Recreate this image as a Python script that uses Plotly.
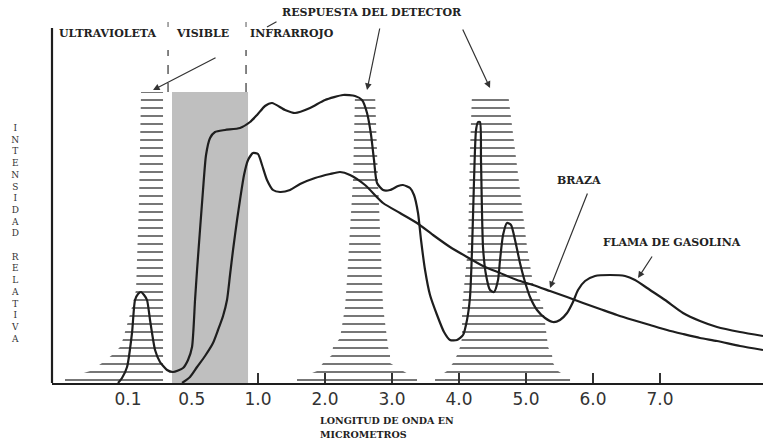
import plotly.graph_objects as go

# ---------------- data (x in axis-display units, y = relative intensity) ----------------
TICK_POS = [-0.94, 0.01, 1, 2, 3, 4, 5, 6, 7]
TICK_LABELS = ["0.1", "0.5", "1.0", "2.0", "3.0", "4.0", "5.0", "6.0", "7.0"]
MINOR_TICKS = [1, 2, 3, 4, 5, 6, 7]

flama_x = [-1.090, -1.030, -0.955, -0.881, -0.836, -0.791, -0.746, -0.701, -0.657, -0.612,
           -0.582, -0.537, -0.463, -0.358, -0.269, -0.119, -0.045, 0.015, 0.060, 0.090,
           0.134, 0.179, 0.224, 0.284, 0.358, 0.507, 0.731, 0.881, 0.985, 1.104,
           1.209, 1.403, 1.552, 1.776, 2.000, 2.269, 2.448, 2.552, 2.627, 2.687,
           2.731, 2.776, 2.866, 2.970, 3.090, 3.164, 3.269, 3.328, 3.388, 3.433,
           3.493, 3.567, 3.672, 3.776, 3.866, 3.970, 4.060, 4.119, 4.164, 4.194,
           4.224, 4.254, 4.284, 4.313, 4.328, 4.358, 4.403, 4.463, 4.522, 4.582,
           4.612, 4.657, 4.716, 4.776, 4.836, 4.910, 4.985, 5.060, 5.164, 5.284,
           5.403, 5.507, 5.612, 5.701, 5.776, 5.881, 6.030, 6.254, 6.478, 6.627,
           6.851, 7.075, 7.343, 7.597, 7.851, 8.194, 8.537]
flama_y = [0, 5, 16, 50, 83, 89, 91, 88, 83, 63,
           50, 33, 21, 13, 11, 15, 23, 36, 83, 113,
           153, 193, 228, 245, 251, 253, 255, 261, 268, 277,
           280, 273, 270, 275, 283, 288, 287, 283, 270, 248,
           223, 200, 193, 193, 197, 198, 195, 188, 170, 143,
           113, 88, 68, 51, 43, 43, 48, 63, 86, 133,
           203, 253, 261, 261, 223, 136, 108, 93, 91, 103,
           123, 148, 160, 158, 143, 120, 101, 86, 73, 65,
           61, 63, 70, 81, 93, 102, 107, 108, 107, 103,
           93, 83, 70, 62, 56, 51, 47]

braza_x = [-0.134, -0.015, 0.090, 0.209, 0.328, 0.403, 0.478, 0.537, 0.582, 0.627,
           0.687, 0.731, 0.791, 0.851, 0.925, 1.000, 1.060, 1.134, 1.224, 1.328,
           1.478, 1.627, 1.851, 2.075, 2.224, 2.373, 2.597, 2.866, 3.119, 3.373,
           3.612, 3.866, 4.119, 4.358, 4.612, 4.866, 5.104, 5.358, 5.612, 5.851,
           6.104, 6.358, 6.597, 6.851, 7.104, 7.343, 7.597, 7.851, 8.194, 8.537]
braza_y = [0, 6, 16, 27, 40, 53, 67, 83, 108, 133,
           163, 183, 208, 223, 230, 229, 218, 203, 193, 191,
           193, 199, 205, 209, 211, 208, 198, 180, 170, 160,
           148, 136, 126, 117, 110, 103, 98, 92, 86, 80,
           74, 68, 63, 58, 53, 49, 45, 42, 37, 33]

# detector response bands (outline: left edge bottom->top, then right edge top->bottom)
uv_x = [-1.881, -1.881, -1.507, -1.328, -1.179, -1.060, -1.015, -0.985, -0.940, -0.910,
        -0.881, -0.821, -0.776, -0.746, -0.418, -0.418]
uv_y = [0, 4, 12, 20, 28, 36, 44, 51, 60, 68,
        76, 93, 183, 291, 291, 0]

ir1_x = [1.582, 1.582, 1.881, 1.970, 2.104, 2.119, 2.224, 2.299, 2.328, 2.418, 2.448,
         2.746, 2.791, 2.851, 2.866, 2.925, 2.940, 2.970, 2.970, 3.164, 3.373, 3.373]
ir1_y = [0, 4, 12, 20, 28, 36, 45, 76, 103, 203, 290,
         290, 203, 103, 76, 45, 36, 28, 20, 12, 4, 0]

ir2_x = [3.642, 3.642, 3.821, 3.910, 3.970, 4.015, 4.045, 4.045, 4.134, 4.164, 4.194,
         4.731, 4.836, 5.015, 5.104, 5.254, 5.313, 5.328, 5.388, 5.403, 5.478, 5.657, 5.657]
ir2_y = [0, 4, 12, 20, 28, 36, 45, 76, 136, 233, 290,
         290, 233, 136, 100, 76, 45, 36, 28, 20, 12, 4, 0]

VISIBLE_BAND = (-0.284, 0.851, 291)   # x start, x end, height
X_RANGE = [-2.075, 8.537]
Y_RANGE = [0, 383]

INK = "#1e1e1e"
SERIF = "DejaVu Serif"

fig = go.Figure()

hatch = dict(shape="-", size=8, solidity=0.16, fgcolor="#2a2a2a",
             bgcolor="white", fillmode="replace")
for hx, hy in [(uv_x, uv_y), (ir1_x, ir1_y), (ir2_x, ir2_y)]:
    fig.add_trace(go.Scatter(x=hx, y=hy, mode="lines", fill="toself",
                             fillcolor="white", fillpattern=hatch,
                             line=dict(width=0, color="white"),
                             hoverinfo="skip", showlegend=False))

for cx, cy in [(flama_x, flama_y), (braza_x, braza_y)]:
    fig.add_trace(go.Scatter(x=cx, y=cy, mode="lines",
                             line=dict(color=INK, width=2.2, shape="spline", smoothing=0.6),
                             hoverinfo="skip", showlegend=False))

shapes = [
    dict(type="rect", xref="x", yref="y", x0=VISIBLE_BAND[0], x1=VISIBLE_BAND[1],
         y0=0, y1=VISIBLE_BAND[2], fillcolor="#bfbfbf", line=dict(width=0), layer="below"),
    # left axis line
    dict(type="line", xref="paper", yref="y", x0=0, x1=0, y0=0, y1=355,
         line=dict(color=INK, width=2.2)),
]
for bx in [-0.343, 0.821]:
    shapes.append(dict(type="line", xref="x", yref="y", x0=bx, x1=bx, y0=291, y1=333,
                       line=dict(color="#333", width=1.2, dash="dash")))
    shapes.append(dict(type="line", xref="x", yref="y", x0=bx, x1=bx, y0=356, y1=361,
                       line=dict(color="#555", width=1)))

lab = dict(family=SERIF, size=11, color="#222", weight="bold")
annotations = [
    dict(x=-2.0, y=350, text="ULTRAVIOLETA", xanchor="left"),
    dict(x=-0.25, y=350, text="VISIBLE", xanchor="left"),
    dict(x=0.85, y=350, text="INFRARROJO", xanchor="left"),
    dict(x=1.33, y=371, text="RESPUESTA DEL DETECTOR", xanchor="left"),
    dict(x=5.43, y=203, text="BRAZA", xanchor="left"),
    dict(x=6.12, y=141, text="FLAMA DE GASOLINA", xanchor="left"),
]
for a in annotations:
    a.update(xref="x", yref="y", showarrow=False, font=lab, yanchor="middle")

title_font = dict(family=SERIF, size=9.5, color="#222", weight="bold")
for txt, py in [("LONGITUD DE ONDA EN", -0.099), ("MICROMETROS", -0.135)]:
    annotations.append(dict(x=1.9, y=py, xref="x", yref="paper", xanchor="left",
                            yanchor="middle", text=txt, showarrow=False, font=title_font))

arrows = [
    (-0.567, 293, 64, -33, 2),
    (2.627, 293, 13, -63, 2),
    (4.463, 295, -28, -60, 2),
    (1.134, 356, 11, -6, 0),
    (5.358, 95, 38, -96, 2),
    (6.672, 105, 15, -23, 2),
]
for hx, hy, ax, ay, head in arrows:
    annotations.append(dict(x=hx, y=hy, xref="x", yref="y", ax=ax, ay=ay, text="",
                            showarrow=True, arrowhead=head, arrowsize=1.1,
                            arrowwidth=1.2, arrowcolor="#333"))

annotations.append(dict(x=-0.052, y=150, xref="paper", yref="y", xanchor="center",
                        yanchor="middle", showarrow=False, align="center",
                        text="<br>".join(list("INTENSIDAD") + [" "] + list("RELATIVA")),
                        font=dict(family=SERIF, size=9, color="#333")))

fig.update_layout(
    width=763, height=442,
    margin=dict(l=52, r=0, t=0, b=59),
    paper_bgcolor="white", plot_bgcolor="white",
    showlegend=False,
    shapes=shapes, annotations=annotations,
    xaxis=dict(range=X_RANGE, showgrid=False, zeroline=False, showline=True,
               linecolor=INK, linewidth=2, ticks="", tickmode="array",
               tickvals=TICK_POS, ticktext=TICK_LABELS, ticklabelstandoff=0,
               tickfont=dict(family="DejaVu Sans", size=17, color="#333"),
               minor=dict(tickmode="array", tickvals=MINOR_TICKS, ticks="inside",
                          ticklen=10, tickwidth=1.5, tickcolor="#333")),
    yaxis=dict(range=Y_RANGE, visible=False),
)

fig.write_html("out.html", config={"displayModeBar": False},
               post_script="document.body.style.margin='0';document.body.style.overflow='hidden';")
